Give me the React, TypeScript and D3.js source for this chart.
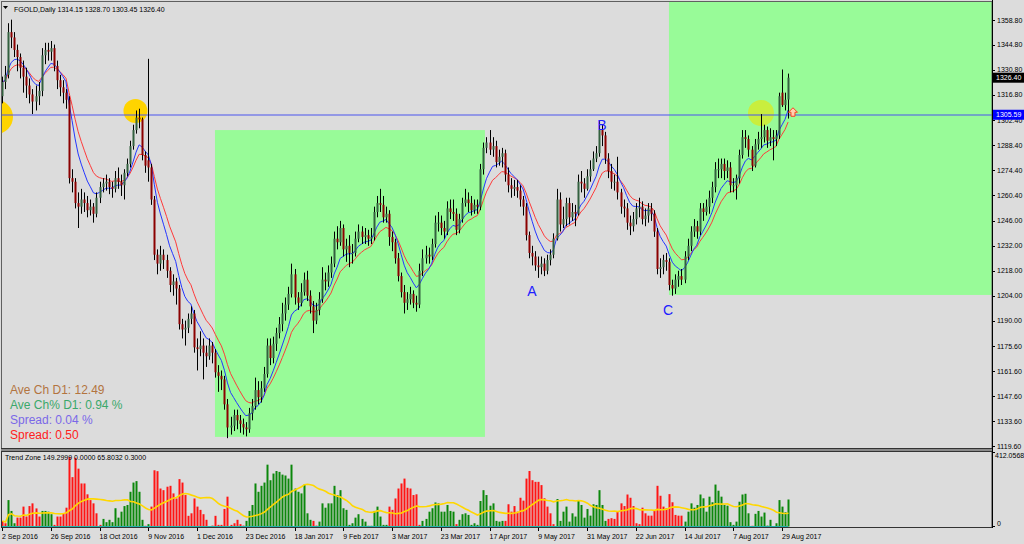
import * as d3 from 'd3';

// Daily FGOLD candles, 2 Sep 2016 .. 31 Aug 2017 (one entry per bar)
const opens = [
  1316, 1324, 1328, 1352, 1349, 1342, 1338, 1332, 1327, 1322,
  1317, 1313, 1316, 1319, 1339, 1342, 1341, 1343, 1333, 1325,
  1321, 1318, 1314, 1270, 1268, 1256, 1254, 1258, 1256, 1252,
  1254, 1250, 1259, 1265, 1267, 1268, 1265, 1264, 1270, 1268,
  1266, 1273, 1278, 1288, 1297, 1304, 1303, 1283, 1280, 1276,
  1258, 1227, 1222, 1227, 1224, 1218, 1210, 1212, 1208, 1188,
  1185, 1186, 1191, 1194, 1175, 1174, 1176, 1172, 1170, 1176,
  1172, 1161, 1159, 1157, 1143, 1130, 1131, 1137, 1134, 1132,
  1130, 1129, 1138, 1142, 1151, 1147, 1152, 1160, 1176, 1169,
  1177, 1183, 1188, 1194, 1199, 1205, 1216, 1203, 1200, 1206,
  1213, 1204, 1198, 1190, 1196, 1202, 1213, 1212, 1217, 1222,
  1236, 1234, 1242, 1230, 1232, 1228, 1228, 1236, 1240, 1237,
  1238, 1236, 1237, 1251, 1256, 1255, 1248, 1250, 1237, 1234,
  1225, 1215, 1206, 1200, 1202, 1205, 1200, 1199, 1218, 1225,
  1227, 1226, 1233, 1245, 1245, 1242, 1240, 1253, 1251, 1250,
  1241, 1247, 1256, 1258, 1256, 1252, 1255, 1254, 1275, 1287,
  1290, 1286, 1288, 1279, 1282, 1284, 1272, 1266, 1264, 1265,
  1263, 1258, 1254, 1238, 1228, 1226, 1221, 1220, 1222, 1218,
  1224, 1227, 1236, 1258, 1244, 1247, 1256, 1248, 1251, 1250,
  1268, 1267, 1264, 1271, 1275, 1281, 1284, 1297, 1294, 1281,
  1274, 1268, 1268, 1262, 1254, 1253, 1245, 1243, 1247, 1253,
  1254, 1247, 1249, 1253, 1250, 1240, 1219, 1220, 1224, 1223,
  1210, 1208, 1213, 1215, 1213, 1226, 1232, 1240, 1243, 1240,
  1253, 1251, 1254, 1259, 1265, 1275, 1275, 1278, 1274, 1276,
  1266, 1266, 1270, 1283, 1293, 1292, 1286, 1277, 1289, 1292,
  1293, 1297, 1291, 1293, 1292, 1294, 1318, 1311, 1314.15,
];
const highs = [
  1327, 1333, 1357, 1359, 1352, 1345, 1340, 1336, 1332, 1326,
  1320, 1322, 1324, 1343, 1346, 1346, 1347, 1345, 1336, 1328,
  1325, 1320, 1316, 1275, 1270, 1262, 1264, 1262, 1260, 1258,
  1256, 1262, 1268, 1270, 1272, 1270, 1268, 1274, 1276, 1272,
  1275, 1281, 1291, 1300, 1308, 1309, 1304, 1285, 1337, 1278,
  1260, 1230, 1232, 1230, 1227, 1220, 1216, 1214, 1210, 1191,
  1190, 1194, 1198, 1196, 1180, 1184, 1180, 1176, 1180, 1178,
  1174, 1165, 1162, 1159, 1146, 1136, 1140, 1140, 1137, 1135,
  1133, 1141, 1146, 1158, 1156, 1156, 1164, 1180, 1180, 1181,
  1186, 1192, 1200, 1203, 1209, 1222, 1219, 1206, 1211, 1217,
  1218, 1207, 1201, 1200, 1206, 1220, 1217, 1221, 1226, 1240,
  1243, 1246, 1244, 1236, 1238, 1233, 1240, 1244, 1243, 1242,
  1241, 1242, 1254, 1260, 1264, 1260, 1254, 1252, 1240, 1236,
  1228, 1217, 1210, 1206, 1209, 1207, 1204, 1222, 1230, 1232,
  1231, 1236, 1249, 1251, 1249, 1246, 1257, 1258, 1258, 1253,
  1250, 1259, 1264, 1262, 1260, 1258, 1258, 1278, 1290, 1293,
  1297, 1293, 1291, 1286, 1287, 1286, 1276, 1270, 1269, 1269,
  1266, 1260, 1256, 1240, 1232, 1229, 1226, 1226, 1225, 1227,
  1230, 1239, 1264, 1262, 1254, 1259, 1259, 1256, 1255, 1272,
  1274, 1270, 1275, 1280, 1285, 1288, 1302, 1300, 1296, 1284,
  1278, 1272, 1282, 1264, 1258, 1256, 1249, 1251, 1256, 1259,
  1257, 1253, 1256, 1256, 1252, 1242, 1225, 1227, 1228, 1225,
  1213, 1216, 1218, 1219, 1229, 1236, 1243, 1247, 1246, 1256,
  1256, 1258, 1263, 1268, 1279, 1281, 1281, 1281, 1280, 1279,
  1270, 1272, 1286, 1297, 1297, 1294, 1288, 1292, 1296, 1306,
  1300, 1299, 1298, 1297, 1297, 1318, 1331, 1318, 1328.7,
];
const lows = [
  1312, 1320, 1326, 1343, 1338, 1330, 1326, 1318, 1315, 1312,
  1306, 1308, 1311, 1316, 1334, 1336, 1336, 1330, 1320, 1316,
  1312, 1309, 1267, 1262, 1253, 1242, 1250, 1251, 1248, 1249,
  1245, 1248, 1256, 1262, 1263, 1261, 1259, 1262, 1264, 1260,
  1258, 1271, 1276, 1286, 1295, 1298, 1280, 1273, 1268, 1255,
  1224, 1216, 1218, 1219, 1214, 1206, 1204, 1199, 1185, 1180,
  1176, 1183, 1188, 1172, 1162, 1170, 1157, 1164, 1168, 1166,
  1158, 1150, 1151, 1140, 1124, 1126, 1128, 1129, 1127, 1126,
  1125, 1127, 1134, 1140, 1143, 1144, 1150, 1158, 1165, 1166,
  1173, 1180, 1184, 1190, 1196, 1203, 1199, 1196, 1198, 1204,
  1201, 1194, 1183, 1188, 1193, 1200, 1207, 1209, 1214, 1220,
  1230, 1232, 1226, 1223, 1220, 1222, 1226, 1234, 1233, 1233,
  1232, 1233, 1235, 1248, 1251, 1245, 1245, 1232, 1229, 1222,
  1212, 1203, 1194, 1196, 1199, 1197, 1195, 1197, 1215, 1222,
  1222, 1224, 1231, 1240, 1238, 1236, 1238, 1247, 1246, 1238,
  1239, 1245, 1254, 1251, 1249, 1250, 1250, 1252, 1272, 1284,
  1283, 1282, 1276, 1277, 1276, 1268, 1262, 1259, 1260, 1259,
  1254, 1249, 1235, 1225, 1221, 1218, 1214, 1216, 1215, 1216,
  1221, 1225, 1235, 1240, 1242, 1243, 1244, 1246, 1243, 1249,
  1262, 1259, 1263, 1268, 1274, 1279, 1282, 1288, 1278, 1270,
  1264, 1263, 1258, 1250, 1248, 1241, 1238, 1240, 1244, 1248,
  1244, 1243, 1245, 1246, 1237, 1216, 1214, 1216, 1218, 1207,
  1204, 1205, 1209, 1210, 1211, 1224, 1229, 1237, 1236, 1238,
  1246, 1249, 1250, 1256, 1262, 1270, 1270, 1269, 1270, 1262,
  1262, 1258, 1267, 1281, 1287, 1282, 1274, 1276, 1286, 1287,
  1290, 1287, 1288, 1280, 1288, 1292, 1310, 1308, 1303.45,
];
const closes = [
  1324, 1328, 1352, 1349, 1342, 1338, 1332, 1327, 1322, 1317,
  1313, 1316, 1319, 1339, 1342, 1341, 1343, 1333, 1325, 1321,
  1318, 1314, 1270, 1268, 1256, 1254, 1258, 1256, 1252, 1254,
  1250, 1259, 1265, 1267, 1268, 1265, 1264, 1270, 1268, 1266,
  1273, 1278, 1288, 1297, 1304, 1303, 1283, 1277, 1276, 1258,
  1227, 1222, 1227, 1224, 1218, 1210, 1212, 1208, 1188, 1185,
  1186, 1191, 1194, 1175, 1174, 1176, 1172, 1170, 1176, 1172,
  1161, 1159, 1157, 1143, 1130, 1131, 1137, 1134, 1132, 1130,
  1129, 1138, 1142, 1151, 1147, 1152, 1160, 1176, 1169, 1177,
  1183, 1188, 1194, 1199, 1205, 1216, 1203, 1200, 1206, 1213,
  1204, 1198, 1190, 1196, 1202, 1213, 1212, 1217, 1222, 1236,
  1234, 1242, 1230, 1232, 1228, 1228, 1236, 1240, 1237, 1238,
  1236, 1237, 1251, 1256, 1255, 1248, 1250, 1237, 1234, 1225,
  1215, 1206, 1200, 1202, 1205, 1200, 1199, 1218, 1225, 1227,
  1226, 1233, 1245, 1245, 1242, 1240, 1253, 1251, 1250, 1241,
  1247, 1256, 1258, 1256, 1252, 1255, 1254, 1275, 1287, 1290,
  1286, 1288, 1279, 1282, 1284, 1272, 1266, 1264, 1265, 1263,
  1258, 1254, 1238, 1228, 1226, 1221, 1220, 1222, 1218, 1224,
  1227, 1236, 1258, 1244, 1247, 1256, 1248, 1251, 1250, 1268,
  1267, 1264, 1271, 1275, 1281, 1284, 1297, 1294, 1281, 1274,
  1268, 1268, 1262, 1254, 1253, 1245, 1243, 1247, 1253, 1254,
  1247, 1249, 1253, 1250, 1240, 1219, 1220, 1224, 1223, 1210,
  1208, 1213, 1215, 1213, 1226, 1232, 1240, 1243, 1240, 1253,
  1251, 1254, 1259, 1265, 1275, 1275, 1278, 1274, 1276, 1266,
  1266, 1270, 1283, 1293, 1292, 1286, 1277, 1289, 1292, 1293,
  1297, 1291, 1293, 1292, 1294, 1316, 1311, 1314, 1326.4,
];

// Trend Zone histogram, one value per bar, and its colour (r = red, g = green)
const trendZone = [
  31, 18, 146, 86, 18, 49, 49, 110, 55, 113,
  128, 100, 55, 86, 86, 82, 68, 9, 55, 55,
  73, 104, 384, 273, 380, 320, 238, 238, 178, 146,
  128, 73, 9, 42, 24, 37, 24, 101, 49, 82,
  113, 119, 192, 243, 251, 192, 37, 4, 13, 110,
  311, 306, 210, 201, 220, 225, 183, 155, 262, 243,
  174, 59, 73, 155, 110, 92, 68, 37, 2, 5,
  59, 9, 9, 97, 165, 9, 18, 37, 13, 5,
  31, 86, 119, 238, 192, 225, 243, 342, 256, 293,
  307, 302, 287, 282, 265, 342, 210, 192, 183, 232,
  73, 37, 31, 5, 27, 128, 104, 128, 128, 225,
  174, 201, 101, 92, 9, 18, 49, 68, 42, 27,
  4, 4, 86, 110, 55, 9, 9, 110, 92, 155,
  210, 238, 265, 214, 210, 174, 178, 9, 31, 42,
  82, 101, 133, 128, 82, 82, 119, 86, 82, 13,
  37, 68, 73, 64, 9, 18, 9, 141, 201, 174,
  115, 128, 31, 27, 31, 31, 123, 82, 113, 82,
  159, 143, 265, 307, 256, 247, 247, 229, 156, 110,
  73, 13, 152, 31, 82, 110, 27, 73, 55, 143,
  119, 49, 97, 60, 123, 119, 201, 119, 31, 42,
  46, 42, 82, 128, 113, 177, 159, 113, 18, 13,
  104, 73, 60, 60, 86, 225, 170, 110, 101, 179,
  134, 64, 60, 60, 27, 82, 128, 104, 119, 177,
  156, 82, 165, 134, 232, 198, 165, 119, 115, 24,
  9, 27, 137, 177, 181, 73, 4, 70, 86, 55,
  77, 5, 37, 2, 18, 146, 110, 79, 149.2999,
];
const trendColor = (
  'rrgggrrrrr' + 'rrrggggrrr' + 'rrrrrrrrrr' + 'rrrggggggg' + 'gggggggrgr' +
  'rrrrrrrrrr' + 'rrrrrrrrrr' + 'rrrrrrrrrr' + 'gggggggggg' + 'gggggggggg' +
  'ggrrgggggg' + 'gggggggggg' + 'gggggggrrr' + 'rrrrrrrrgg' + 'gggggggggr' +
  'gggggggggg' + 'gggggrrrrr' + 'rrrrrrrrrr' + 'rrgggggggg' + 'gggggggggr' +
  'rrrrrrrrrr' + 'rrrrrrrrrr' + 'rrrrgggggg' + 'gggggggggg' + 'ggggggrggg' +
  'gggrggggg'
).split('');

const dateLabels = [
  '2 Sep 2016', '26 Sep 2016', '18 Oct 2016', '9 Nov 2016', '1 Dec 2016',
  '23 Dec 2016', '18 Jan 2017', '9 Feb 2017', '3 Mar 2017', '23 Mar 2017',
  '17 Apr 2017', '9 May 2017', '31 May 2017', '22 Jun 2017', '14 Jul 2017',
  '7 Aug 2017', '29 Aug 2017',
];
const priceTicks = [
  1358.8, 1344.8, 1330.8, 1316.8, 1302.4, 1288.4, 1274.4, 1260.4, 1246.0,
  1232.0, 1218.0, 1204.0, 1190.0, 1175.6, 1161.6, 1147.6, 1133.6, 1119.6,
];

// chart objects, placed in bar index / price units
const zones = [
  { from: 69.9, to: 158.5, top: 1297.0, bottom: 1124.7 },
  { from: 218.9, to: 340, top: 1380, bottom: 1204.4 },
];
const circles = [
  { i: -1.97, price: 1304.3, r: 17, fill: '#ffd400' },
  { i: 43.8, price: 1307.7, r: 12, fill: '#ffd400' },
  { i: 249.1, price: 1306.6, r: 13, fill: '#c9ee3e' },
];
const waveLabels = [
  { text: 'A', i: 173.9, price: 1203.8 },
  { text: 'B', i: 196.9, price: 1297.0 },
  { text: 'C', i: 218.6, price: 1193.2 },
];
const levelPrice = 1305.59;
const lastPrice = 1326.4;
const arrowAt = { i: 259.6, price: 1307 };
const infoLines = [
  { text: 'Ave Ch D1: 12.49', color: '#b3743f' },
  { text: 'Ave Ch% D1: 0.94 %', color: '#3aa86a' },
  { text: 'Spread: 0.04 %', color: '#7a68e8' },
  { text: 'Spread: 0.50', color: '#ff2020' },
];

function ema(values: number[], n: number) {
  const k = 2 / (n + 1);
  const out: number[] = [];
  values.forEach((v, i) => out.push(i === 0 ? v : out[i - 1] + k * (v - out[i - 1])));
  return out;
}
function sma(values: number[], n: number) {
  return values.map((_, i) => d3.mean(values.slice(Math.max(0, i - n + 1), i + 1)) as number);
}

const FONT = 'Liberation Sans, Arial, sans-serif';

export default function App() {
  const axisX = 992;
  const x = d3.scaleLinear().domain([0, 256]).range([2, 782]);
  const y = d3.scaleLinear().domain([1119.6, 1358.8]).range([446, 20]);
  const yz = d3.scaleLinear().domain([0, 412.0568]).range([526.5, 452]);
  const px = (i: number) => Math.round(x(i)) + 0.5;

  const fast = ema(closes, 8);
  const slow = ema(closes, 13);
  const zoneAvg = sma(trendZone, 20);

  const priceLine = d3.line<number>().x((_, i) => x(i)).y(v => y(v));
  const zoneLine = d3.line<number>().x((_, i) => px(i)).y(v => yz(v));
  const levelY = Math.round(y(levelPrice));

  return (
    <svg width={1024} height={544} style={{ display: 'block' }} fontFamily={FONT}>
      <style>{'body{margin:0}'}</style>
      <defs>
        <clipPath id="main"><rect x={1} y={1} width={axisX - 1} height={448} /></clipPath>
        <clipPath id="sub"><rect x={1} y={452} width={axisX - 1} height={76} /></clipPath>
      </defs>
      <rect width={1024} height={544} fill="#dcdcdc" />

      <g clipPath="url(#main)">
        {zones.map((z, k) => (
          <rect key={k} x={x(z.from)} y={y(z.top)} width={x(z.to) - x(z.from)}
            height={y(z.bottom) - y(z.top)} fill="#98fb98" />
        ))}
        {circles.map((c, k) => (
          <circle key={k} cx={x(c.i)} cy={y(c.price)} r={c.r} fill={c.fill} />
        ))}
        <line x1={0} x2={axisX} y1={levelY} y2={levelY} stroke="#4b55ee" strokeWidth={1.2} />
        <path d={priceLine(slow) || ''} fill="none" stroke="#ff3a3a" strokeWidth={1} />
        <path d={priceLine(fast) || ''} fill="none" stroke="#2536ff" strokeWidth={1} />
        {closes.map((c, i) => {
          const o = opens[i];
          const bull = c >= o;
          const top = y(Math.max(o, c));
          const h = Math.max(1, Math.abs(y(o) - y(c)));
          return (
            <g key={i}>
              <line x1={px(i)} x2={px(i)} y1={y(highs[i])} y2={y(lows[i])} stroke="#000" strokeWidth={1} />
              <rect x={px(i) - 1} y={top} width={2} height={h}
                fill={bull ? '#33613f' : '#8b0000'} />
            </g>
          );
        })}
        {waveLabels.map(w => (
          <text key={w.text} x={x(w.i)} y={y(w.price)} textAnchor="middle" fontSize={14} fill="#2020ff">{w.text}</text>
        ))}
        <path transform={`translate(${x(arrowAt.i)},${y(arrowAt.price)})`}
          d="M0,-4.5 L4.5,0 L2,0 L2,4 L-2,4 L-2,0 L-4.5,0 Z" fill="#ffd2b0" stroke="#ff3c1e" strokeWidth={1} />
        {infoLines.map((l, k) => (
          <text key={k} x={10} y={393.5 + k * 15} fontSize={12} fill={l.color}>{l.text}</text>
        ))}
        <path d="M3,6 L8,6 L5.5,9 Z" fill="#000" />
        <text x={14} y={11.5} fontSize={7} fill="#000">FGOLD,Daily  1314.15 1328.70 1303.45 1326.40</text>
      </g>

      {/* lower pane */}
      <g clipPath="url(#sub)">
        {trendZone.map((v, i) => (
          <rect key={i} x={px(i) - 1} y={yz(v)} width={2} height={yz(0) - yz(v)}
            fill={trendColor[i] === 'r' ? '#ff1414' : '#0b870b'} />
        ))}
        <line x1={x(0)} x2={x(closes.length - 1)} y1={yz(0)} y2={yz(0)} stroke="#20b2aa" strokeWidth={1} />
        <path d={zoneLine(zoneAvg) || ''} fill="none" stroke="#ffd700" strokeWidth={1.6} />
        <text x={5} y={460} fontSize={7} fill="#000">Trend Zone 149.2999 0.0000 65.8032 0.3000</text>
      </g>

      {/* frames */}
      <rect x={1.5} y={1.5} width={axisX - 1.5} height={447} fill="none" stroke="#606060" strokeWidth={1} />
      <rect x={1} y={448.5} width={axisX - 1} height={3} fill="#8a8a8a" />
      <line x1={1} x2={axisX} y1={448.5} y2={448.5} stroke="#333" />
      <line x1={1} x2={axisX} y1={451.5} y2={451.5} stroke="#333" />
      <rect x={1.5} y={451.5} width={axisX - 1.5} height={76} fill="none" stroke="#333" strokeWidth={1} />
      <line x1={axisX + 0.5} x2={axisX + 0.5} y1={0} y2={528} stroke="#000" />

      {/* price axis */}
      {priceTicks.map(t => (
        <g key={t}>
          <line x1={axisX} x2={axisX + 3} y1={Math.round(y(t)) + 0.5} y2={Math.round(y(t)) + 0.5} stroke="#000" />
          <text x={axisX + 5} y={y(t) + 2.5} fontSize={7} fill="#000">{t.toFixed(2)}</text>
        </g>
      ))}
      <rect x={axisX + 1} y={y(lastPrice) - 5} width={31} height={10} fill="#000" />
      <text x={axisX + 4} y={y(lastPrice) + 2.5} fontSize={7} fill="#fff">{lastPrice.toFixed(2)}</text>
      <rect x={axisX + 1} y={y(levelPrice) - 5} width={31} height={10} fill="#0000ff" />
      <text x={axisX + 4} y={y(levelPrice) + 2.5} fontSize={7} fill="#fff">{levelPrice.toFixed(2)}</text>

      {/* lower pane axis */}
      <line x1={axisX} x2={axisX + 3} y1={452.5} y2={452.5} stroke="#000" />
      <text x={axisX + 3} y={458} fontSize={7} fill="#000">412.0568</text>
      <line x1={axisX} x2={axisX + 3} y1={526.5} y2={526.5} stroke="#000" />
      <text x={axisX + 5} y={525.5} fontSize={7} fill="#000">0</text>

      {/* time axis */}
      {dateLabels.map((d, k) => (
        <g key={d}>
          <line x1={px(k * 16)} x2={px(k * 16)} y1={528} y2={531} stroke="#000" />
          <text x={x(k * 16)} y={539} fontSize={7} fill="#000">{d}</text>
        </g>
      ))}
    </svg>
  );
}
